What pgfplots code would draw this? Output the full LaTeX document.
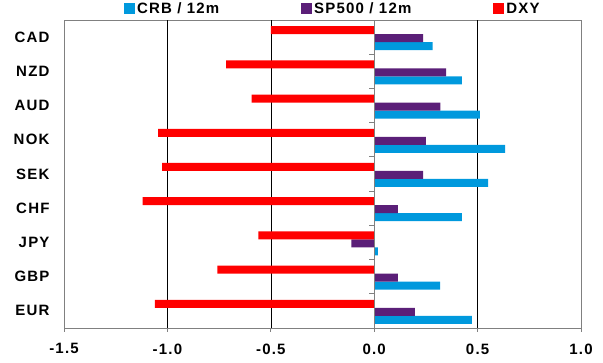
\documentclass[border=0pt]{standalone}
\usepackage{pgfplots}
\pgfplotsset{compat=1.18}
\usepackage{fontspec}
\setmainfont{Liberation Sans}[LetterSpace=8]
\definecolor{crb}{RGB}{0,153,221}
\definecolor{spx}{RGB}{91,31,120}
\definecolor{dxy}{RGB}{255,0,0}
\begin{document}
\begin{tikzpicture}
\useasboundingbox (0,0) rectangle (603pt,363pt);
\begin{axis}[
  at={(64pt,35pt)}, anchor=south west,
  scale only axis, width=517pt, height=308pt,
  xmin=-1.5, xmax=1.0, ymin=-0.5, ymax=8.5,
  /pgf/number format/fixed, /pgf/number format/fixed zerofill,
  /pgf/number format/precision=1, /pgf/number format/assume math mode=true,
  xtick={-1.5,-1,-0.5,0,0.5,1},
  xtick align=outside, xtick pos=lower,
  major tick length=4pt,
  x tick style={draw=gray, line width=0.8pt},
  ytick={0,...,8},
  yticklabels={EUR,GBP,JPY,CHF,SEK,NOK,AUD,NZD,CAD},
  y tick style={draw=none},
  yticklabel style={xshift=-11pt},
  xticklabel style={yshift=-8pt},
  ticklabel style={font=\bfseries\fontsize{15}{18}\selectfont},
  extra x ticks={-1,-0.5,0.5}, extra x tick labels={},
  extra x tick style={grid=major, major grid style={black, line width=0.6pt}},
  axis line style={draw=gray, line width=0.8pt},
  legend columns=3,
  legend style={draw=none, fill=none, at={(0.52,1)}, anchor=south, yshift=1pt,
    font=\bfseries\fontsize{15}{17}\selectfont,
    /tikz/every even column/.append style={column sep=80pt}},
  legend image code/.code={\fill[#1] (0pt,-5.5pt) rectangle (11pt,5.5pt);},
]
\addplot[xbar, bar width=8pt, bar shift=-9pt, fill=crb, draw=none] coordinates {(0.472,0) (0.319,1) (0.018,2) (0.424,3) (0.551,4) (0.633,5) (0.511,6) (0.424,7) (0.283,8)};
\addlegendentry{CRB / 12m}
\addplot[xbar, bar width=8pt, bar shift=-1pt, fill=spx, draw=none] coordinates {(0.197,0) (0.115,1) (-0.11,2) (0.115,3) (0.237,4) (0.25,5) (0.32,6) (0.348,7) (0.237,8)};
\addlegendentry{SP500 / 12m}
\addplot[xbar, bar width=8pt, bar shift=7pt, fill=dxy, draw=none] coordinates {(-1.06,0) (-0.758,1) (-0.56,2) (-1.12,3) (-1.025,4) (-1.045,5) (-0.593,6) (-0.716,7) (-0.50,8)};
\addlegendentry{DXY}
\addplot[gray, line width=1pt, forget plot] coordinates {(0,-0.5) (0,8.5)};
\addplot[gray, line width=0.8pt, forget plot, unbounded coords=jump] table[row sep=\\] {
x y\\
-0.024 -0.5\\ 0 -0.5\\ nan nan\\
-0.024 0.5\\ 0 0.5\\ nan nan\\
-0.024 1.5\\ 0 1.5\\ nan nan\\
-0.024 2.5\\ 0 2.5\\ nan nan\\
-0.024 3.5\\ 0 3.5\\ nan nan\\
-0.024 4.5\\ 0 4.5\\ nan nan\\
-0.024 5.5\\ 0 5.5\\ nan nan\\
-0.024 6.5\\ 0 6.5\\ nan nan\\
-0.024 7.5\\ 0 7.5\\ nan nan\\
-0.024 8.5\\ 0 8.5\\
};
\end{axis}
\end{tikzpicture}
\end{document}
